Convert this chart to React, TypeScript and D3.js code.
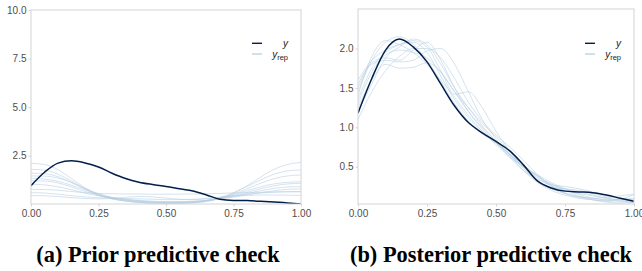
import React, { useEffect, useRef } from 'react';
import * as d3 from 'd3';

// evaluation grid for the density curves
const xGrid = d3.range(0, 21).map(i => i / 20);

// (a) prior predictive check
const priorY = [0.96, 1.65, 2.12, 2.24, 2.13, 1.92, 1.6, 1.33, 1.14, 1.02, 0.92, 0.8, 0.68, 0.48, 0.26, 0.2, 0.19, 0.16, 0.12, 0.07, 0.02];
const priorYrep = [
  [2.11, 2.05, 1.78, 1.32, 0.85, 0.5, 0.3, 0.18, 0.1, 0.06, 0.05, 0.05, 0.07, 0.14, 0.3, 0.58, 0.95, 1.4, 1.8, 2.05, 2.16],
  [1.8, 1.76, 1.55, 1.2, 0.8, 0.48, 0.28, 0.16, 0.1, 0.07, 0.06, 0.07, 0.1, 0.18, 0.35, 0.6, 0.92, 1.25, 1.55, 1.72, 1.77],
  [1.6, 1.58, 1.42, 1.12, 0.78, 0.48, 0.28, 0.17, 0.1, 0.06, 0.05, 0.06, 0.09, 0.16, 0.3, 0.52, 0.8, 1.08, 1.32, 1.46, 1.51],
  [1.46, 1.45, 1.35, 1.12, 0.82, 0.55, 0.35, 0.22, 0.14, 0.1, 0.08, 0.09, 0.12, 0.2, 0.33, 0.5, 0.7, 0.9, 1.05, 1.13, 1.16],
  [1.34, 1.3, 1.18, 0.98, 0.74, 0.52, 0.36, 0.25, 0.18, 0.14, 0.12, 0.12, 0.14, 0.2, 0.3, 0.45, 0.62, 0.8, 0.95, 1.05, 1.08],
  [1.21, 1.2, 1.1, 0.9, 0.66, 0.46, 0.32, 0.22, 0.16, 0.12, 0.1, 0.1, 0.13, 0.19, 0.28, 0.4, 0.55, 0.7, 0.82, 0.89, 0.91],
  [1.03, 1.0, 0.9, 0.75, 0.58, 0.44, 0.34, 0.26, 0.2, 0.16, 0.14, 0.14, 0.16, 0.2, 0.27, 0.37, 0.48, 0.6, 0.7, 0.77, 0.79],
  [0.77, 0.76, 0.72, 0.66, 0.6, 0.56, 0.54, 0.53, 0.53, 0.52, 0.52, 0.52, 0.53, 0.54, 0.56, 0.58, 0.6, 0.62, 0.64, 0.65, 0.66],
  [0.6, 0.58, 0.52, 0.44, 0.38, 0.34, 0.32, 0.3, 0.28, 0.26, 0.24, 0.24, 0.26, 0.3, 0.36, 0.44, 0.52, 0.58, 0.62, 0.64, 0.64],
  [0.45, 0.44, 0.4, 0.34, 0.3, 0.28, 0.3, 0.36, 0.4, 0.38, 0.32, 0.26, 0.24, 0.28, 0.36, 0.42, 0.46, 0.48, 0.48, 0.47, 0.46],
];

// (b) posterior predictive check
const postY = [1.18, 1.62, 1.98, 2.12, 2.02, 1.83, 1.55, 1.27, 1.06, 0.93, 0.82, 0.7, 0.52, 0.32, 0.23, 0.19, 0.18, 0.17, 0.14, 0.1, 0.06];
const postYrep = [
  [1.45, 1.85, 2.08, 2.15, 2.05, 1.85, 1.58, 1.3, 1.08, 0.92, 0.8, 0.66, 0.48, 0.32, 0.22, 0.16, 0.12, 0.1, 0.08, 0.06, 0.04],
  [1.3, 1.7, 1.92, 1.98, 1.95, 1.88, 1.7, 1.45, 1.2, 1.0, 0.82, 0.66, 0.5, 0.36, 0.26, 0.2, 0.16, 0.13, 0.1, 0.07, 0.05],
  [1.55, 1.8, 1.85, 1.83, 1.85, 1.97, 2.0, 1.8, 1.45, 1.1, 0.85, 0.65, 0.45, 0.3, 0.2, 0.14, 0.1, 0.08, 0.07, 0.08, 0.1],
  [1.25, 1.6, 1.8, 1.75, 1.76, 1.82, 1.7, 1.45, 1.25, 1.05, 0.88, 0.7, 0.52, 0.38, 0.28, 0.22, 0.18, 0.14, 0.1, 0.08, 0.06],
  [1.35, 1.75, 1.95, 2.05, 2.1, 2.02, 1.72, 1.42, 1.45, 1.25, 0.95, 0.7, 0.48, 0.32, 0.24, 0.22, 0.2, 0.16, 0.12, 0.1, 0.08],
  [1.2, 1.55, 1.88, 2.02, 2.12, 2.05, 1.8, 1.5, 1.25, 1.02, 0.82, 0.62, 0.45, 0.34, 0.27, 0.25, 0.22, 0.18, 0.14, 0.1, 0.07],
  [1.5, 1.82, 1.88, 1.85, 1.98, 2.08, 1.85, 1.5, 1.2, 0.98, 0.8, 0.64, 0.5, 0.4, 0.3, 0.22, 0.15, 0.1, 0.08, 0.09, 0.15],
  [1.1, 1.45, 1.72, 1.9, 2.0, 2.0, 1.88, 1.62, 1.32, 1.08, 0.9, 0.75, 0.58, 0.4, 0.26, 0.17, 0.12, 0.1, 0.11, 0.13, 0.15],
  [1.4, 1.9, 2.1, 2.05, 1.95, 1.8, 1.6, 1.38, 1.15, 0.95, 0.78, 0.62, 0.5, 0.38, 0.28, 0.2, 0.13, 0.08, 0.05, 0.03, 0.02],
  [1.6, 1.85, 1.98, 2.05, 2.08, 1.95, 1.65, 1.35, 1.12, 0.95, 0.8, 0.66, 0.52, 0.38, 0.25, 0.16, 0.11, 0.08, 0.06, 0.05, 0.05],
];

const xTicks = [0, 0.25, 0.5, 0.75, 1];
const priorYTicks = [2.5, 5, 7.5, 10];
const postYTicks = [0.5, 1, 1.5, 2];
const captions = ['(a) Prior predictive check', '(b) Posterior predictive check'];

const App = () => {
  const svgRef = useRef<SVGSVGElement>(null);

  useEffect(() => {
    const svg = d3.select(svgRef.current);
    svg.selectAll('*').remove();

    const panels = [
      { id: 'a', left: 31, right: 301, top: 10, bottom: 204, yDomain: [0, 10], yRange: [204.3, 10], yTicks: priorYTicks, y: priorY, yrep: priorYrep, legendX: 288, caption: captions[0], capX: 158 },
      { id: 'b', left: 358, right: 634, top: 9, bottom: 204, yDomain: [0, 2.5], yRange: [206.1, 9.1], yTicks: postYTicks, y: postY, yrep: postYrep, legendX: 621, caption: captions[1], capX: 491 },
    ];

    panels.forEach(p => {
      const x = d3.scaleLinear().domain([0, 1]).range([p.left, p.right]);
      const y = d3.scaleLinear().domain(p.yDomain).range(p.yRange);
      const g = svg.append('g');

      g.append('clipPath')
        .attr('id', `clip-${p.id}`)
        .append('rect')
          .attr('x', p.left)
          .attr('y', p.top)
          .attr('width', p.right - p.left)
          .attr('height', p.bottom - p.top);

      const line = d3.line<number>()
        .x((_, i) => x(xGrid[i]))
        .y(d => y(d))
        .curve(d3.curveMonotoneX);

      const plot = g.append('g').attr('clip-path', `url(#clip-${p.id})`);

      plot.selectAll('path.rep')
        .data(p.yrep)
        .enter()
        .append('path')
          .attr('class', 'rep')
          .attr('d', d => line(d))
          .attr('fill', 'none')
          .attr('stroke', '#b3cde0')
          .attr('stroke-opacity', 0.7)
          .attr('stroke-width', 0.8);

      plot.append('path')
        .attr('d', line(p.y))
        .attr('fill', 'none')
        .attr('stroke', '#011f4b')
        .attr('stroke-width', 1.5);

      // panel border
      g.append('rect')
        .attr('x', p.left)
        .attr('y', p.top)
        .attr('width', p.right - p.left)
        .attr('height', p.bottom - p.top)
        .attr('fill', 'none')
        .attr('stroke', '#d4d4d4')
        .attr('stroke-width', 1);

      // axes
      const xAxis = g.append('g')
        .attr('transform', `translate(0,${p.bottom})`)
        .call(d3.axisBottom(x).tickValues(xTicks).tickFormat(d3.format('.2f')).tickSize(2.5).tickPadding(3));
      const yAxis = g.append('g')
        .attr('transform', `translate(${p.left},0)`)
        .call(d3.axisLeft(y).tickValues(p.yTicks).tickFormat(d3.format('.1f')).tickSize(2.5).tickPadding(2));

      [xAxis, yAxis].forEach(a => {
        a.select('.domain').remove();
        a.selectAll('line').attr('stroke', '#d4d4d4');
        a.selectAll('text')
          .attr('fill', '#4d4d4d')
          .style('font-family', 'Liberation Sans, Arial, sans-serif')
          .style('font-size', '10px');
      });

      // legend
      const leg = g.append('g');
      leg.append('line')
        .attr('x1', p.legendX - 36).attr('x2', p.legendX - 26)
        .attr('y1', 43.3).attr('y2', 43.3)
        .attr('stroke', '#011f4b').attr('stroke-width', 1.4);
      leg.append('line')
        .attr('x1', p.legendX - 36).attr('x2', p.legendX - 26)
        .attr('y1', 54).attr('y2', 54)
        .attr('stroke', '#b3cde0').attr('stroke-width', 1.2);
      leg.append('text')
        .attr('x', p.legendX)
        .attr('y', 46.5)
        .attr('text-anchor', 'end')
        .attr('fill', '#222')
        .style('font-family', 'Liberation Sans, Arial, sans-serif')
        .style('font-style', 'italic')
        .style('font-size', '10px')
        .text('y');
      const rep = leg.append('text')
        .attr('x', p.legendX)
        .attr('y', 57.5)
        .attr('text-anchor', 'end')
        .attr('fill', '#222')
        .style('font-family', 'Liberation Sans, Arial, sans-serif')
        .style('font-size', '10px');
      rep.append('tspan').style('font-style', 'italic').text('y');
      rep.append('tspan').attr('dy', 2).style('font-size', '7.5px').text('rep');

      // caption
      svg.append('text')
        .attr('x', p.capX)
        .attr('y', 262)
        .attr('text-anchor', 'middle')
        .attr('fill', '#000')
        .style('font-family', 'Liberation Serif, serif')
        .style('font-weight', 'bold')
        .style('font-size', '22.4px')
        .text(p.caption);
    });
  }, []);

  return (
    <svg
      ref={svgRef}
      width={642}
      height={271}
      style={{ position: 'absolute', left: 0, top: 0, background: '#fff' }}
    />
  );
};

export default App;
